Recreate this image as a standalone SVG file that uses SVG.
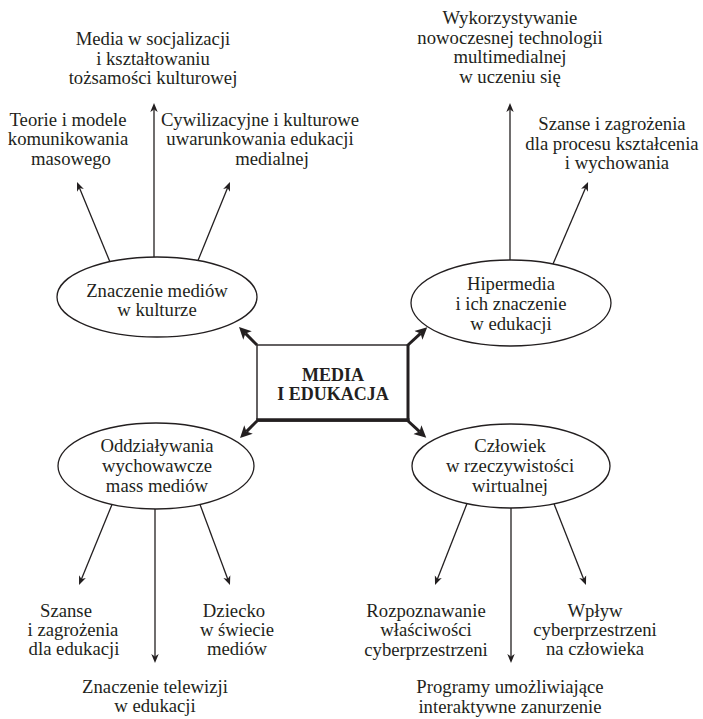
<svg xmlns="http://www.w3.org/2000/svg" width="703" height="719" viewBox="0 0 703 719">
<defs>
<style>
text{font-family:"Liberation Serif","Times New Roman",serif;font-size:18.7px;fill:#231f20;text-anchor:middle}
.title{font-weight:bold;font-size:18px}
ellipse{fill:#fff;stroke:#231f20;stroke-width:1.3}
.thin{stroke:#231f20;stroke-width:1.3;fill:none;marker-end:url(#sa)}
.thick{stroke:#231f20;stroke-width:3;fill:none;marker-end:url(#ta)}
</style>
<marker id="sa" markerUnits="userSpaceOnUse" markerWidth="12" markerHeight="10" refX="2.5" refY="5" orient="auto" viewBox="0 0 12 10">
<path d="M9,5 L0,1.3 L2.5,5 L0,8.7 Z" fill="#231f20"/>
</marker>
<marker id="ta" markerUnits="userSpaceOnUse" markerWidth="14" markerHeight="14" refX="3" refY="7" orient="auto" viewBox="0 0 14 14">
<path d="M12,7 L0,1 L3,7 L0,13 Z" fill="#231f20"/>
</marker>
</defs>
<rect width="703" height="719" fill="#fff"/>

<g id="connectors">
<line class="thick" x1="257" y1="345" x2="245.4" y2="333.4"/>
<line class="thick" x1="408" y1="345" x2="420.6" y2="333.4"/>
<line class="thick" x1="257" y1="421" x2="246.4" y2="431.6"/>
<line class="thick" x1="408" y1="421" x2="419.6" y2="431.6"/>

<line class="thin" x1="110" y1="262" x2="79.5" y2="188"/>
<line class="thin" x1="154" y1="257" x2="154" y2="109.5"/>
<line class="thin" x1="198" y1="260.5" x2="227.5" y2="188"/>

<line class="thin" x1="510" y1="260" x2="510" y2="109.5"/>
<line class="thin" x1="553" y1="264" x2="585.5" y2="188"/>

<line class="thin" x1="112" y1="504.5" x2="81.5" y2="579"/>
<line class="thin" x1="155" y1="509" x2="155" y2="656.5"/>
<line class="thin" x1="200" y1="504.5" x2="227.7" y2="579"/>

<line class="thin" x1="467" y1="503.6" x2="437.4" y2="579"/>
<line class="thin" x1="511" y1="508" x2="511" y2="656.5"/>
<line class="thin" x1="554" y1="503.8" x2="583.6" y2="579"/>
</g>

<g id="center">
<rect x="257" y="345" width="151" height="76" fill="#fff" stroke="#231f20" stroke-width="1.4"/>
<line x1="256.3" y1="420" x2="409.5" y2="420" stroke="#231f20" stroke-width="3.5"/>
<line x1="408" y1="344.3" x2="408" y2="421.5" stroke="#231f20" stroke-width="3"/>
<text class="title" x="333" y="381">MEDIA</text>
<text class="title" x="333" y="400">I EDUKACJA</text>
</g>

<g id="n-kultura">
<ellipse cx="157" cy="297" rx="100" ry="40"/>
<text x="157" y="297">Znaczenie mediów</text>
<text x="157" y="316">w kulturze</text>
</g>
<g id="n-hipermedia">
<ellipse cx="511" cy="303" rx="100" ry="43"/>
<text x="511" y="290">Hipermedia</text>
<text x="511" y="310">i ich znaczenie</text>
<text x="511" y="330">w edukacji</text>
</g>
<g id="n-oddzialywania">
<ellipse cx="156" cy="466" rx="98" ry="43"/>
<text x="157" y="452">Oddziaływania</text>
<text x="157" y="472">wychowawcze</text>
<text x="157" y="492">mass mediów</text>
</g>
<g id="n-czlowiek">
<ellipse cx="511" cy="466" rx="99" ry="42"/>
<text x="510" y="452">Człowiek</text>
<text x="510" y="472">w rzeczywistości</text>
<text x="510" y="492">wirtualnej</text>
</g>

<g id="t-socjalizacja">
<text x="153" y="45">Media w socjalizacji</text>
<text x="153" y="65">i kształtowaniu</text>
<text x="153" y="84">tożsamości kulturowej</text>
</g>
<g id="t-teorie">
<text x="68" y="126">Teorie i modele</text>
<text x="68" y="145">komunikowania</text>
<text x="71" y="165">masowego</text>
</g>
<g id="t-cywilizacyjne">
<text x="260" y="126">Cywilizacyjne i kulturowe</text>
<text x="260" y="145">uwarunkowania edukacji</text>
<text x="272" y="165">medialnej</text>
</g>
<g id="t-wykorzystywanie">
<text x="510" y="24">Wykorzystywanie</text>
<text x="510" y="44">nowoczesnej technologii</text>
<text x="510" y="63">multimedialnej</text>
<text x="510" y="83">w uczeniu się</text>
</g>
<g id="t-szanse-ksztalcenie">
<text x="612" y="130">Szanse i zagrożenia</text>
<text x="612" y="150">dla procesu kształcenia</text>
<text x="617" y="169">i wychowania</text>
</g>
<g id="t-szanse-edukacja">
<text x="66" y="617">Szanse</text>
<text x="73" y="636">i zagrożenia</text>
<text x="74" y="655">dla edukacji</text>
</g>
<g id="t-dziecko">
<text x="234" y="617">Dziecko</text>
<text x="237" y="636">w świecie</text>
<text x="237" y="655">mediów</text>
</g>
<g id="t-telewizja">
<text x="155" y="693">Znaczenie telewizji</text>
<text x="155" y="712">w edukacji</text>
</g>
<g id="t-rozpoznawanie">
<text x="426" y="617">Rozpoznawanie</text>
<text x="426" y="636">właściwości</text>
<text x="426" y="656">cyberprzestrzeni</text>
</g>
<g id="t-wplyw">
<text x="595" y="617">Wpływ</text>
<text x="595" y="636">cyberprzestrzeni</text>
<text x="595" y="655">na człowieka</text>
</g>
<g id="t-programy">
<text x="510" y="693">Programy umożliwiające</text>
<text x="510" y="713">interaktywne zanurzenie</text>
</g>
</svg>
